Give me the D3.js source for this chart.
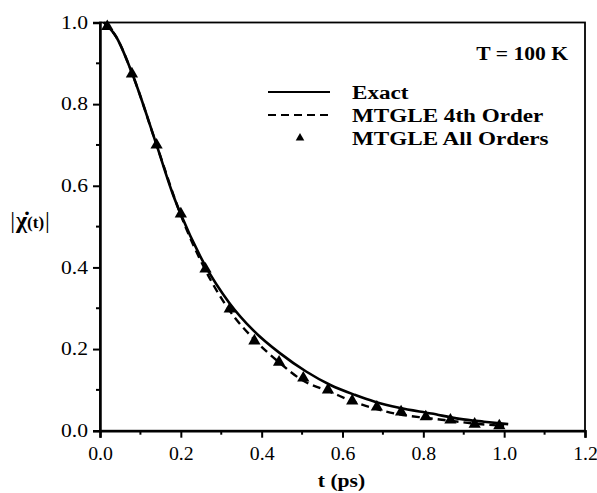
<!DOCTYPE html>
<html><head><meta charset="utf-8">
<script src="https://cdn.jsdelivr.net/npm/d3@7"></script>
<style>body{margin:0;background:#fff}svg{display:block}</style>
</head><body>
<svg id="c" width="597" height="493"></svg>
<script>
// ---- data ----
const xTicks = [0.0, 0.2, 0.4, 0.6, 0.8, 1.0, 1.2];
const yTicks = [0.0, 0.2, 0.4, 0.6, 0.8, 1.0];
const tExact = [0.01, 0.04, 0.08, 0.14, 0.18, 0.20, 0.26, 0.32, 0.38, 0.445, 0.51, 0.57, 0.63, 0.68, 0.74, 0.82, 0.89, 0.95, 1.01];
const exact  = [1.0, 0.965, 0.874, 0.70, 0.58, 0.53, 0.405, 0.313, 0.245, 0.19, 0.145, 0.112, 0.088, 0.071, 0.056, 0.042, 0.029, 0.022, 0.016];
const t4th   = [0.01, 0.04, 0.08, 0.14, 0.20, 0.26, 0.32, 0.38, 0.445, 0.50, 0.57, 0.63, 0.685, 0.74, 0.81, 0.87, 0.93, 1.0];
const order4 = [1.0, 0.965, 0.874, 0.70, 0.528, 0.395, 0.295, 0.225, 0.166, 0.124, 0.095, 0.070, 0.053, 0.040, 0.031, 0.024, 0.017, 0.012];
const tAll   = [0.018, 0.079, 0.140, 0.200, 0.261, 0.321, 0.382, 0.443, 0.503, 0.564, 0.624, 0.685, 0.745, 0.806, 0.867, 0.927, 0.988];
const allOrd = [0.99, 0.874, 0.70, 0.531, 0.396, 0.298, 0.22, 0.168, 0.129, 0.10, 0.073, 0.058, 0.046, 0.034, 0.026, 0.016, 0.012];
const legendLabels = ["Exact", "MTGLE 4th Order", "MTGLE All Orders"];
const tempLabel = "T = 100 K";
const xTitle = "t (ps)";

// ---- layout ----
const svg = d3.select("#c");
const L = 100, R = 585, T = 22.5, B = 430.7;
const x = d3.scaleLinear().domain([0, 1.2]).range([L, R]);
const y = d3.scaleLinear().domain([0, 1.0]).range([B, T]);
const serif = "'Liberation Serif','Times New Roman',serif";

// frame
svg.append("rect").attr("x", L).attr("y", T).attr("width", R - L).attr("height", B - T)
  .attr("fill", "none").attr("stroke", "#000").attr("stroke-width", 1.8);

// axes
const xAxis = d3.axisBottom(x).tickValues(xTicks).tickSize(7).tickFormat(d3.format(".1f"));
const gx = svg.append("g").attr("transform", `translate(0,${B})`).call(xAxis);
const yAxis = d3.axisLeft(y).tickValues(yTicks).tickSize(7).tickFormat(d3.format(".1f"));
const gy = svg.append("g").attr("transform", `translate(${L},0)`).call(yAxis);
[gx, gy].forEach(g => {
  g.select(".domain").attr("stroke-width", 2.5);
  g.selectAll(".tick line").attr("stroke-width", 2);
  g.selectAll(".tick text").attr("font-family", serif).attr("font-size", 18).attr("fill", "#000");
});
gx.selectAll(".tick text").attr("dy", null).attr("y", 29).attr("x", 0)
  .attr("transform", "scale(1.1,1)");
gy.selectAll(".tick text").attr("x", 0).attr("dy", "0.32em")
  .attr("transform", "translate(-12,0) scale(1.2,1)");
// minor ticks
const minorX = d3.range(0.1, 1.2, 0.2);
const minorY = d3.range(0.1, 1.0, 0.2);
svg.append("g").selectAll("line").data(minorX).join("line")
  .attr("x1", d => x(d)).attr("x2", d => x(d)).attr("y1", B).attr("y2", B + 4)
  .attr("stroke", "#000").attr("stroke-width", 2);
svg.append("g").selectAll("line").data(minorY).join("line")
  .attr("x1", L - 4).attr("x2", L).attr("y1", d => y(d)).attr("y2", d => y(d))
  .attr("stroke", "#000").attr("stroke-width", 2);

// x title
svg.append("text").attr("transform", `translate(${(L + R) / 2 - 1},487) scale(1.2,1)`)
  .attr("text-anchor", "middle").attr("font-family", serif).attr("font-weight", "bold")
  .attr("font-size", 18).text(xTitle);

// y title |χ̇(t)|
const yt = svg.append("text").attr("transform", `translate(30,228)`)
  .attr("text-anchor", "middle").attr("font-family", serif).attr("font-size", 24);
yt.append("tspan").attr("font-weight", "normal").text("|");
yt.append("tspan").attr("font-weight", "bold").attr("dx", 1).text("\u03C7\u0307");
yt.append("tspan").attr("font-weight", "bold").attr("font-size", 17).text("(t)");
yt.append("tspan").attr("font-weight", "normal").attr("dx", 1).text("|");

// lines
const line = d3.line().x(d => x(d[0])).y(d => y(d[1])).curve(d3.curveMonotoneX);
svg.append("path").datum(d3.zip(tExact, exact)).attr("d", line)
  .attr("fill", "none").attr("stroke", "#000").attr("stroke-width", 2.6);
svg.append("path").datum(d3.zip(t4th, order4)).attr("d", line)
  .attr("fill", "none").attr("stroke", "#000").attr("stroke-width", 2.4).attr("stroke-dasharray", "8,5");

// triangles
const tri = d3.symbol().type(d3.symbolTriangle).size(65);
svg.append("g").selectAll("path").data(d3.zip(tAll, allOrd)).join("path")
  .attr("d", tri).attr("transform", d => `translate(${x(d[0])},${y(d[1])})`).attr("fill", "#000");

// legend
const lg = svg.append("g");
const rowsY = [92, 115, 138];
lg.append("line").attr("x1", 268).attr("x2", 330).attr("y1", rowsY[0]).attr("y2", rowsY[0])
  .attr("stroke", "#000").attr("stroke-width", 2);
lg.append("line").attr("x1", 268).attr("x2", 330).attr("y1", rowsY[1]).attr("y2", rowsY[1])
  .attr("stroke", "#000").attr("stroke-width", 2).attr("stroke-dasharray", "8,5");
lg.append("path").attr("d", d3.symbol().type(d3.symbolTriangle).size(32))
  .attr("transform", `translate(300,${rowsY[2]})`).attr("fill", "#000");
legendLabels.forEach((s, i) => {
  lg.append("text").attr("transform", `translate(352,${rowsY[i] + 6.5}) scale(1.25,1)`)
    .attr("font-family", serif).attr("font-weight", "bold").attr("font-size", 18.5).text(s);
});
svg.append("text").attr("transform", `translate(568,60) scale(1.2,1)`).attr("text-anchor", "end")
  .attr("font-family", serif).attr("font-weight", "bold").attr("font-size", 18).text(tempLabel);
</script>
</body></html>
